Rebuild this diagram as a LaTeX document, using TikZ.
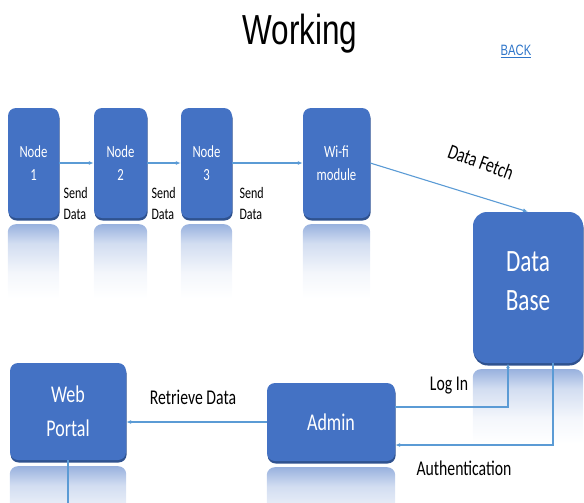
\documentclass[tikz,border=0pt]{standalone}
\usepackage{fontspec}
\setmainfont{Carlito}[FakeStretch=0.75]
\newfontfamily\headfont{Liberation Sans}[FakeStretch=0.75]
\usetikzlibrary{arrows.meta,shadows,backgrounds}
\definecolor{boxblue}{HTML}{4472C4}
\definecolor{boxedge}{HTML}{2F528F}
\definecolor{linkblue}{HTML}{5B9BD5}
\definecolor{backblue}{HTML}{2E75C9}
\pgfdeclareverticalshading{mirror}{100bp}{color(0bp)=(white); color(25bp)=(white); color(40bp)=(white); color(52bp)=(boxblue!6); color(66bp)=(boxblue!24); color(75bp)=(boxblue!55); color(100bp)=(boxblue!55)}
\begin{document}
\begin{tikzpicture}[x=1pt,y=-1pt,
  blk/.style={fill=boxblue,rounded corners=8pt,text=white,align=center,inner sep=0pt,
    general shadow={fill=boxedge,shadow yshift=-2.5pt,shadow xshift=0.6pt}},
  link/.style={linkblue,line width=1.1pt,-{Latex[length=5pt,width=4pt]}},
  lbl/.style={align=left,font=\fontsize{16}{21}\selectfont},
  big/.style={font=\fontsize{21}{21}\selectfont},
  mirror/.style={shading=mirror,rounded corners=8pt}]
\useasboundingbox (0,0) rectangle (584,503);
\node[font=\headfont\fontsize{42}{42}\selectfont,anchor=base] (title) at (300,45) {Working};
\node[font=\headfont\fontsize{15}{15}\selectfont,text=backblue,anchor=base] (back) at (516,56) {\underline{BACK}};
\node[blk,minimum width=51pt,minimum height=110pt,font=\fontsize{17}{23}\selectfont] (n1) at (33.5,163) {Node\\1};
\node[blk,minimum width=53pt,minimum height=110pt,font=\fontsize{17}{23}\selectfont] (n2) at (120.5,163) {Node\\2};
\node[blk,minimum width=51pt,minimum height=110pt,font=\fontsize{17}{23}\selectfont] (n3) at (206.5,163) {Node\\3};
\node[blk,minimum width=67pt,minimum height=110pt,font=\fontsize{17}{23}\selectfont] (wifi) at (336.5,163) {Wi-fi\\module};
\node[blk,rounded corners=14pt,minimum width=110pt,minimum height=151pt,font=\fontsize{31}{39}\selectfont] (db) at (528,287.5) {Data\\Base\\[-26pt]};
\node[blk,minimum width=116pt,minimum height=97pt,font=\fontsize{24}{34}\selectfont] (portal) at (68,411.5) {Web\\Portal};
\node[blk,minimum width=128pt,minimum height=78pt,font=\fontsize{24}{24}\selectfont] (admin) at (331,422) {Admin};
\foreach \a/\b/\x in {n1/n2/60,n2/n3/148,n3/wifi/236} {
  \draw[link] (\a.east) -- (\b.west);
  \node[lbl,anchor=west] (s\a) at (\x,203.5) {Send\\Data};
}
\draw[link] (wifi.east) -- (db.north);
\node[font=\fontsize{21}{21}\selectfont,rotate=-20] (fetch) at (481,162) {Data Fetch};
\draw[link] (admin.west) -- (admin.west -| portal.east);
\node[big] (retr) at (193,397) {Retrieve Data};
\draw[link] ([yshift=15pt]admin.east) -| ([xshift=-20pt]db.south);
\node[big] (login) at (449,386) {Log In};
\draw[link] ([xshift=25pt]db.south) |- ([yshift=-23pt]admin.east);
\node[big] (auth) at (464,468) {Authentication};
\coordinate (out) at (68,503);
\draw[linkblue,line width=1.1pt] (portal.south) -- (out);
\begin{pgfonlayer}{background}
\foreach \b in {n1,n2,n3,wifi,db,portal,admin}
  \path[mirror] ([yshift=-6pt]\b.south west) rectangle ([yshift=-112pt]\b.south east);
\end{pgfonlayer}
\end{tikzpicture}
\end{document}
